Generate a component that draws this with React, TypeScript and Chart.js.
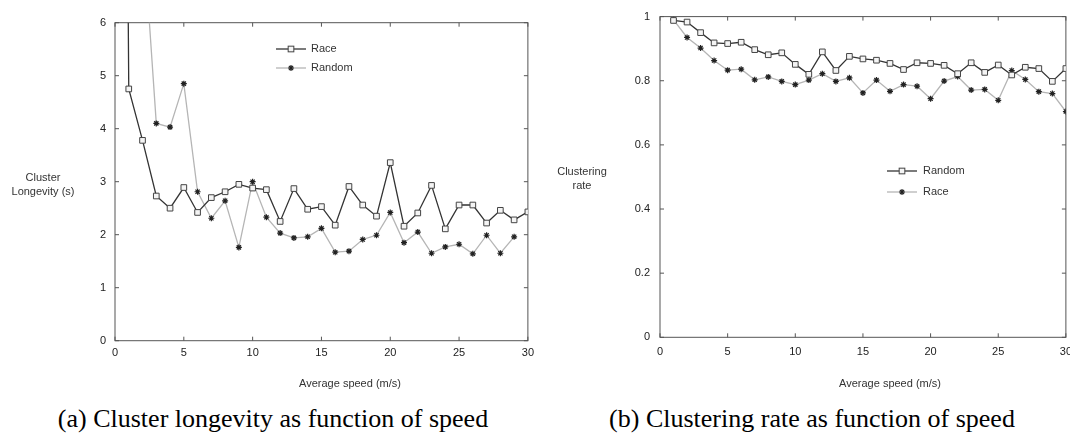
import React, { useEffect, useRef } from "react";
import { Chart, registerables } from "chart.js";

Chart.register(...registerables);

// ---------- data ----------
const speedsA = [0, 1, 2, 3, 4, 5, 6, 7, 8, 9, 10, 11, 12, 13, 14, 15, 16, 17, 18, 19, 20, 21, 22, 23, 24, 25, 26, 27, 28, 29, 30];
const longevityRace = [40, 4.75, 3.78, 2.73, 2.5, 2.89, 2.42, 2.7, 2.81, 2.95, 2.88, 2.85, 2.25, 2.87, 2.48, 2.53, 2.18, 2.91, 2.56, 2.35, 3.36, 2.16, 2.41, 2.93, 2.11, 2.56, 2.56, 2.22, 2.46, 2.28, 2.43];
const longevityRandom = [null, 11, 7.9, 4.1, 4.03, 4.85, 2.81, 2.31, 2.64, 1.76, 3.0, 2.33, 2.03, 1.94, 1.96, 2.12, 1.67, 1.69, 1.91, 1.99, 2.42, 1.85, 2.05, 1.65, 1.77, 1.82, 1.64, 1.99, 1.65, 1.96, null];

const speedsB = [1, 2, 3, 4, 5, 6, 7, 8, 9, 10, 11, 12, 13, 14, 15, 16, 17, 18, 19, 20, 21, 22, 23, 24, 25, 26, 27, 28, 29, 30];
const rateRandom = [0.988, 0.983, 0.95, 0.918, 0.916, 0.92, 0.897, 0.881, 0.887, 0.851, 0.82, 0.89, 0.832, 0.876, 0.868, 0.864, 0.854, 0.835, 0.856, 0.854, 0.848, 0.822, 0.856, 0.826, 0.849, 0.818, 0.842, 0.838, 0.798, 0.838];
const rateRace = [0.99, 0.935, 0.902, 0.863, 0.833, 0.836, 0.803, 0.812, 0.798, 0.788, 0.802, 0.822, 0.798, 0.809, 0.762, 0.802, 0.767, 0.788, 0.783, 0.744, 0.799, 0.813, 0.771, 0.773, 0.739, 0.832, 0.804, 0.766, 0.76, 0.704];

const xTicks = [0, 5, 10, 15, 20, 25, 30];
const yTicksA = [0, 1, 2, 3, 4, 5, 6];
const yTicksB = [0, 0.2, 0.4, 0.6, 0.8, 1];

const labelA1 = "Race";
const labelA2 = "Random";
const labelB1 = "Random";
const labelB2 = "Race";

// ---------- styles ----------
const SANS = '"Liberation Sans", Arial, sans-serif';
const DARK = "#333333";
const LIGHT = "#b5b5b5";
const FRAME = "#555555";

const toPoints = (xs: number[], ys: (number | null)[]) =>
  xs.map((x, i) => ({ x, y: ys[i] }));

const fmt = (v: number) => String(Number(Number(v).toFixed(2)));

function drawMarker(ctx: CanvasRenderingContext2D, style: string, x: number, y: number) {
  ctx.save();
  if (style === "rect") {
    const s = 4 * Math.SQRT1_2;
    ctx.fillStyle = "#f4f4f4";
    ctx.strokeStyle = "#444";
    ctx.lineWidth = 1;
    ctx.fillRect(x - s, y - s, 2 * s, 2 * s);
    ctx.strokeRect(x - s, y - s, 2 * s, 2 * s);
  } else {
    const r = 3;
    ctx.strokeStyle = "#222";
    ctx.lineWidth = 1.2;
    ctx.beginPath();
    ctx.moveTo(x - r, y);
    ctx.lineTo(x + r, y);
    ctx.moveTo(x, y - r);
    ctx.lineTo(x, y + r);
    const d = r * Math.SQRT1_2;
    ctx.moveTo(x - d, y - d);
    ctx.lineTo(x + d, y + d);
    ctx.moveTo(x - d, y + d);
    ctx.lineTo(x + d, y - d);
    ctx.stroke();
  }
  ctx.restore();
}

const framePlugin = {
  id: "frameTicks",
  beforeDatasetsDraw(chart: any) {
    const { ctx, chartArea: a, scales } = chart;
    const x = scales.x;
    const y = scales.y;
    ctx.save();
    ctx.strokeStyle = FRAME;
    ctx.lineWidth = 1;
    ctx.strokeRect(a.left, a.top, a.right - a.left, a.bottom - a.top);
    const tl = 4;
    ctx.beginPath();
    x.ticks.forEach((t: any) => {
      const px = x.getPixelForValue(t.value);
      ctx.moveTo(px, a.bottom);
      ctx.lineTo(px, a.bottom - tl);
      ctx.moveTo(px, a.top);
      ctx.lineTo(px, a.top + tl);
    });
    y.ticks.forEach((t: any) => {
      const py = y.getPixelForValue(t.value);
      ctx.moveTo(a.left, py);
      ctx.lineTo(a.left + tl, py);
      ctx.moveTo(a.right, py);
      ctx.lineTo(a.right - tl, py);
    });
    ctx.stroke();
    ctx.restore();
  },
};

const legendPlugin = {
  id: "inlineLegend",
  afterDatasetsDraw(chart: any, _args: any, opts: any) {
    const { ctx } = chart;
    chart.data.datasets.forEach((ds: any, i: number) => {
      const y = opts.y + i * opts.gap;
      ctx.save();
      ctx.strokeStyle = ds.borderColor;
      ctx.lineWidth = ds.borderWidth;
      ctx.beginPath();
      ctx.moveTo(opts.x, y);
      ctx.lineTo(opts.x + opts.len, y);
      ctx.stroke();
      drawMarker(ctx, ds.pointStyle, opts.x + opts.len / 2, y);
      ctx.fillStyle = DARK;
      ctx.font = `11px ${SANS}`;
      ctx.textBaseline = "middle";
      ctx.textAlign = "left";
      ctx.fillText(ds.label, opts.x + opts.len + opts.textGap, y);
      ctx.restore();
    });
  },
};

function squareSeries(label: string, data: any[], color: string) {
  return {
    label,
    data,
    borderColor: color,
    borderWidth: 1.3,
    pointStyle: "rect",
    pointRadius: 4,
    pointBackgroundColor: "#f4f4f4",
    pointBorderColor: "#444",
    pointBorderWidth: 1,
    tension: 0,
    spanGaps: false,
  };
}

function starSeries(label: string, data: any[], color: string) {
  return {
    label,
    data,
    borderColor: color,
    borderWidth: 1.3,
    pointStyle: "star",
    pointRadius: 3,
    pointBorderColor: "#222",
    pointBackgroundColor: "#222",
    pointBorderWidth: 1.2,
    tension: 0,
    spanGaps: false,
  };
}

function makeConfig(
  datasets: any[],
  yTicks: number[],
  geom: { w: number; h: number; left: number; right: number; top: number; bottom: number; yPad: number; xPad: number },
  legend: { x: number; y: number; gap: number; len: number; textGap: number }
) {
  const tickFont = { family: SANS, size: 11 };
  return {
    type: "line" as const,
    data: { datasets },
    plugins: [framePlugin, legendPlugin],
    options: {
      responsive: false,
      animation: false as const,
      events: [],
      layout: { padding: { left: 0, top: geom.top, right: geom.w - geom.right, bottom: 0 } },
      plugins: {
        legend: { display: false },
        tooltip: { enabled: false },
        inlineLegend: legend,
      },
      scales: {
        x: {
          type: "linear" as const,
          min: xTicks[0],
          max: xTicks[xTicks.length - 1],
          afterBuildTicks: (s: any) => {
            s.ticks = xTicks.map((v) => ({ value: v }));
          },
          afterFit: (s: any) => {
            s.height = geom.h - geom.bottom;
          },
          grid: { display: false, drawTicks: false },
          border: { display: false },
          ticks: { color: "#222", font: tickFont, padding: geom.xPad, maxRotation: 0, autoSkip: false, callback: (v: any) => fmt(v) },
        },
        y: {
          type: "linear" as const,
          min: yTicks[0],
          max: yTicks[yTicks.length - 1],
          afterBuildTicks: (s: any) => {
            s.ticks = yTicks.map((v) => ({ value: v }));
          },
          afterFit: (s: any) => {
            s.width = geom.left;
          },
          grid: { display: false, drawTicks: false },
          border: { display: false },
          ticks: { color: "#222", font: tickFont, padding: geom.yPad, callback: (v: any) => fmt(v) },
        },
      },
    },
  };
}

export default function App() {
  const refA = useRef<HTMLCanvasElement>(null);
  const refB = useRef<HTMLCanvasElement>(null);

  useEffect(() => {
    const chartA = new Chart(
      refA.current!,
      makeConfig(
        [
          squareSeries(labelA1, toPoints(speedsA, longevityRace), DARK),
          starSeries(labelA2, toPoints(speedsA, longevityRandom), LIGHT),
        ],
        yTicksA,
        { w: 540, h: 400, left: 115, right: 530.5, top: 22.7, bottom: 340.7, yPad: 9, xPad: 6 },
        { x: 276, y: 49, gap: 19, len: 30, textGap: 5 }
      ) as any
    );
    const chartB = new Chart(
      refB.current!,
      makeConfig(
        [
          squareSeries(labelB1, toPoints(speedsB, rateRandom), DARK),
          starSeries(labelB2, toPoints(speedsB, rateRace), LIGHT),
        ],
        yTicksB,
        { w: 540, h: 400, left: 120, right: 529, top: 13.3, bottom: 337.3, yPad: 10, xPad: 8 },
        { x: 347, y: 171, gap: 21, len: 30, textGap: 6 }
      ) as any
    );
    return () => {
      chartA.destroy();
      chartB.destroy();
    };
  }, []);

  const txt: React.CSSProperties = {
    position: "absolute",
    transform: "translate(-50%, -50%)",
    fontFamily: SANS,
    fontSize: 11,
    color: DARK,
    textAlign: "center",
    whiteSpace: "nowrap",
  };
  const cap: React.CSSProperties = {
    position: "absolute",
    transform: "translate(-50%, -50%)",
    fontFamily: '"Liberation Serif", "Times New Roman", serif',
    fontSize: 26,
    color: "#000",
    whiteSpace: "nowrap",
  };

  return (
    <div style={{ position: "absolute", left: 0, top: 0, width: 1070, height: 438, overflow: "hidden", background: "#fff" }}>
      <canvas ref={refA} width={540} height={400} style={{ position: "absolute", left: 0, top: 0, width: 540, height: 400 }} />
      <canvas ref={refB} width={540} height={400} style={{ position: "absolute", left: 540, top: 0, width: 540, height: 400 }} />
      <div style={{ ...txt, left: 43, top: 184, lineHeight: "14px" }}>
        Cluster
        <br />
        Longevity (s)
      </div>
      <div style={{ ...txt, left: 582, top: 178, lineHeight: "13.5px" }}>
        Clustering
        <br />
        rate
      </div>
      <div style={{ ...txt, left: 350, top: 383 }}>Average speed (m/s)</div>
      <div style={{ ...txt, left: 890, top: 383 }}>Average speed (m/s)</div>
      <div style={{ ...cap, left: 273, top: 419 }}>(a) Cluster longevity as function of speed</div>
      <div style={{ ...cap, left: 812, top: 419 }}>(b) Clustering rate as function of speed</div>
    </div>
  );
}
